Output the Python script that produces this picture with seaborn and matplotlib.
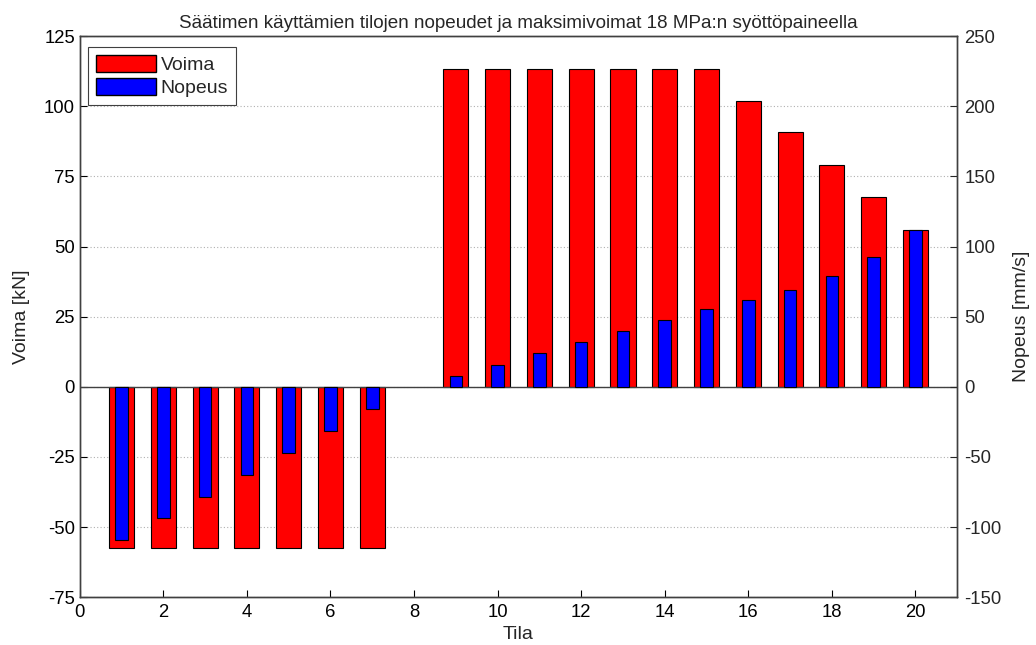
import matplotlib
matplotlib.use("Agg")
import matplotlib.pyplot as plt
import seaborn as sns
import pandas as pd
from matplotlib.patches import Patch

tila = [1, 2, 3, 4, 5, 6, 7, 9, 10, 11, 12, 13, 14, 15, 16, 17, 18, 19, 20]
voima = [-57.4, -57.4, -57.4, -57.4, -57.4, -57.4, -57.4,
         113.2, 113.2, 113.2, 113.2, 113.2, 113.2, 113.2,
         101.7, 90.7, 79.2, 67.5, 56.0]
nopeus = [-109, -93.6, -78.2, -62.6, -46.9, -31.3, -15.8,
          7.9, 15.8, 23.9, 32.0, 39.8, 47.8, 55.5,
          61.6, 69.0, 79.2, 92.9, 111.8]

title = "Säätimen käyttämien tilojen nopeudet ja maksimivoimat 18 MPa:n syöttöpaineella"

sns.set_theme(style="white")
plt.rcParams['font.family'] = ['Liberation Sans', 'DejaVu Sans']
plt.rcParams['axes.unicode_minus'] = False

df = pd.DataFrame({"Tila": tila, "Voima": voima, "Nopeus": nopeus})

fig = plt.figure(figsize=(10.36, 6.45), dpi=100)
ax = fig.add_axes([0.077, 0.074, 0.847, 0.870])
ax2 = ax.twinx()

sns.barplot(data=df, x="Tila", y="Voima", ax=ax, native_scale=True, width=0.6,
            color="#ff0000", edgecolor="black", linewidth=0.8, saturation=1)
sns.barplot(data=df, x="Tila", y="Nopeus", ax=ax2, native_scale=True, width=0.3,
            color="#0000ff", edgecolor="black", linewidth=0.8, saturation=1)

ax.set_xlim(0, 21)
ax2.set_xlim(0, 21)
ax.set_ylim(-75, 125)
ax2.set_ylim(-150, 250)
ax.set_xticks(range(0, 21, 2))
ax.set_xticklabels([str(v) for v in range(0, 21, 2)])
ax.set_yticks(range(-75, 126, 25))
ax2.set_yticks(range(-150, 251, 50))

ax.set_axisbelow(True)
ax.yaxis.grid(True, linestyle=(0, (1, 2)), color="#b0b0b0", linewidth=0.8)
ax.xaxis.grid(False)
ax2.grid(False)

ax.axhline(0, color="#404040", linewidth=1.0, zorder=1)

for a in (ax, ax2):
    for s in a.spines.values():
        s.set_color("#404040")
        s.set_linewidth(1.0)
ax.tick_params(axis="both", direction="in", length=5, labelsize=13.3, colors="#000000",
               left=True, bottom=True, width=0.8)
ax.tick_params(axis="x", pad=4.5)
ax2.tick_params(axis="y", direction="in", length=5, labelsize=13.3, right=True, width=0.8,
                pad=5)

ax.set_xlabel("Tila", fontsize=14, labelpad=4)
ax.set_ylabel("Voima [kN]", fontsize=14, labelpad=10)
ax2.set_ylabel("Nopeus [mm/s]", fontsize=14, labelpad=8)
ax.set_title(title, fontsize=13.6, pad=6)

handles = [Patch(facecolor="#ff0000", edgecolor="black", label="Voima"),
           Patch(facecolor="#0000ff", edgecolor="black", label="Nopeus")]
leg = ax2.legend(handles=handles, loc="upper left", fontsize=14, fancybox=False,
                 framealpha=1, edgecolor="#404040", handlelength=3.1, handleheight=1.0,
                 borderpad=0.4, labelspacing=0.2, handletextpad=0.25,
                 bbox_to_anchor=(-0.002, 0.998))
leg.get_frame().set_linewidth(0.8)

fig.savefig("out.png", dpi=100)
